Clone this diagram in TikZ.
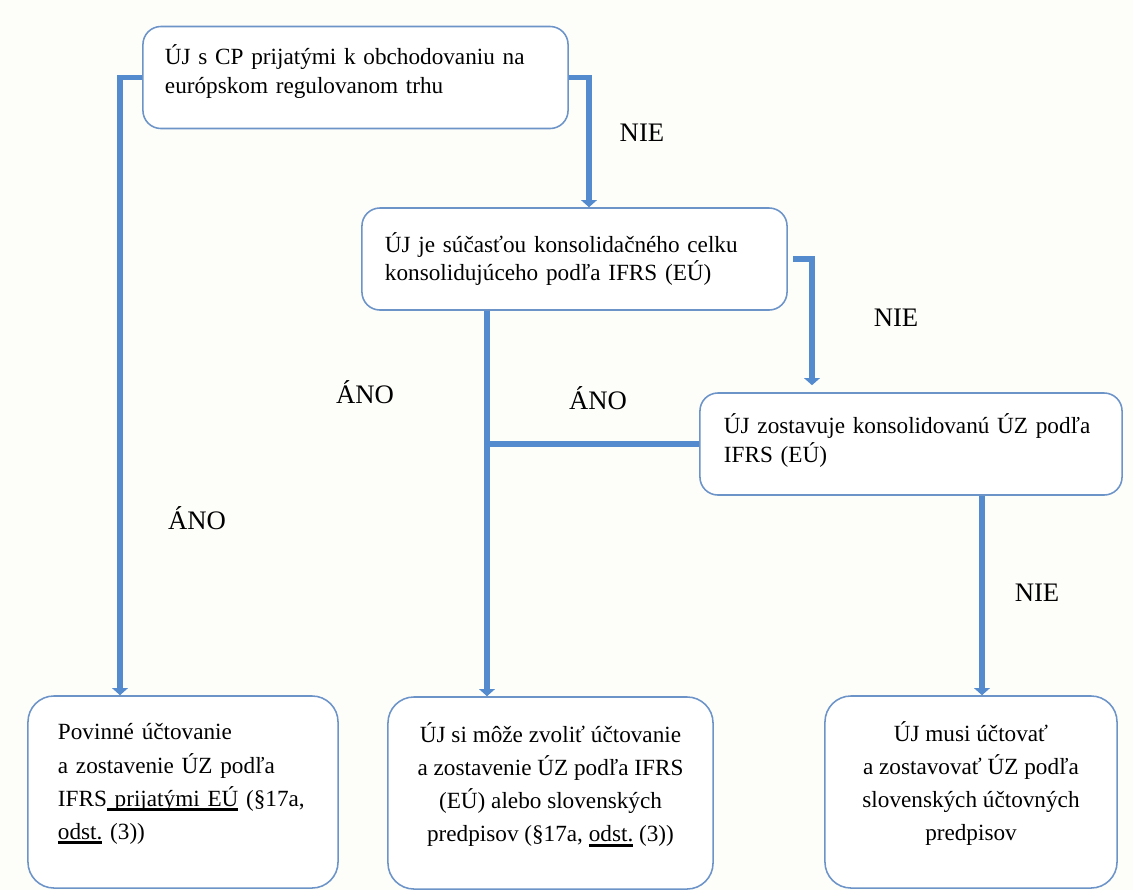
\documentclass[tikz,border=0pt]{standalone}
\usepackage{fontspec}
\setmainfont{Liberation Serif}
\usetikzlibrary{arrows.meta, positioning}
\definecolor{paper}{RGB}{253,253,250}
\definecolor{boxblue}{RGB}{108,148,200}
\definecolor{flowblue}{RGB}{84,138,206}
\newsavebox{\ulbox}
\newcommand{\ulthick}[1]{\leavevmode\sbox{\ulbox}{#1}\rlap{\rule[-3.6pt]{\wd\ulbox}{2pt}}\usebox{\ulbox}}
\newcommand{\raisetext}[1]{\rule[-#1]{0pt}{#1}}

\begin{document}
\begin{tikzpicture}[x=0.025cm, y=-0.025cm,
  decision/.style={draw=boxblue, line width=1.1pt, fill=white, rounded corners=0.45cm,
    minimum height=2.55cm, align=left, font=\fontsize{16.5}{20.5}\selectfont},
  outcome/.style={draw=boxblue, line width=1.1pt, fill=white, rounded corners=0.65cm,
    minimum height=4.8cm, font=\fontsize{16.5}{23.5}\selectfont},
  flow/.style={draw=flowblue, line width=4.2pt, -{Triangle[length=5pt,width=11pt]}},
  link/.style={draw=flowblue, line width=4.2pt},
  answer/.style={font=\fontsize{19}{23}\selectfont}]
\fill[paper] (0,0) rectangle (1133,890);
\useasboundingbox (0,0) rectangle (1133,890);

% Questions
\node[decision, minimum width=10.625cm, inner xsep=0.55cm, text width=9.525cm] (market) at (355.5,77.5)
  {ÚJ s CP prijatými k obchodovaniu na\\ európskom regulovanom trhu\raisetext{12pt}};
\node[decision, minimum width=10.625cm, inner xsep=0.575cm, text width=9.475cm] (group) at (574.5,259)
  {ÚJ je súčasťou konsolidačného celku\\ konsolidujúceho podľa IFRS (EÚ)};
\node[decision, minimum width=10.55cm, inner xsep=0.6cm, text width=9.35cm] (consol) at (911,444)
  {ÚJ zostavuje konsolidovanú ÚZ podľa\\ IFRS (EÚ)\raisetext{9pt}};

% Outcomes
\node[outcome, minimum width=7.75cm, inner xsep=0.75cm, text width=6.25cm, align=left] (mandatory) at (183,792)
  {Povinné účtovanie\\ a zostavenie ÚZ podľa\\ IFRS\ulthick{ prijatými EÚ} (§17a,\\ \ulthick{odst.} (3))\raisetext{15pt}};
\node[outcome, minimum width=8.125cm, align=center] (optional) at (550.5,793)
  {ÚJ si môže zvoliť účtovanie\\ a zostavenie ÚZ podľa IFRS\\ (EÚ) alebo slovenských\\ predpisov (§17a, \ulthick{odst.} (3))\raisetext{15pt}};
\node[outcome, minimum width=7.3cm, align=center] (required) at (971,792)
  {ÚJ musi účtovať\\ a zostavovať ÚZ podľa\\ slovenských účtovných\\ predpisov\raisetext{15pt}};

% Rails
\coordinate (leftrail) at (120,0);
\coordinate (toprail) at (589,0);
\coordinate (midrail) at (487,0);
\coordinate (grouprail) at (812,0);
\coordinate (rightrail) at (982,0);

% Connections
\draw[flow] (market.west) -| (leftrail |- mandatory.north);
\draw[flow] (market.east) -| (toprail |- group.north);
\draw[flow, shorten <=4pt, shorten >=5pt] (group.east) -| (grouprail |- consol.north);
\draw[flow] (midrail |- group.south) -- (midrail |- optional.north);
\draw[link] (consol.west) -- (midrail |- consol.west);
\draw[flow] (rightrail |- consol.south) -- (rightrail |- required.north);

% Labels
\node[answer] (nie1) at (642,133) {NIE};
\node[answer] (nie2) at (896,318) {NIE};
\node[answer] (nie3) at (1037,593) {NIE};
\node[answer] (ano1) at (197,518) {ÁNO};
\node[answer] (ano2) at (365,392) {ÁNO};
\node[answer] (ano3) at (598,398) {ÁNO};
\end{tikzpicture}
\end{document}
